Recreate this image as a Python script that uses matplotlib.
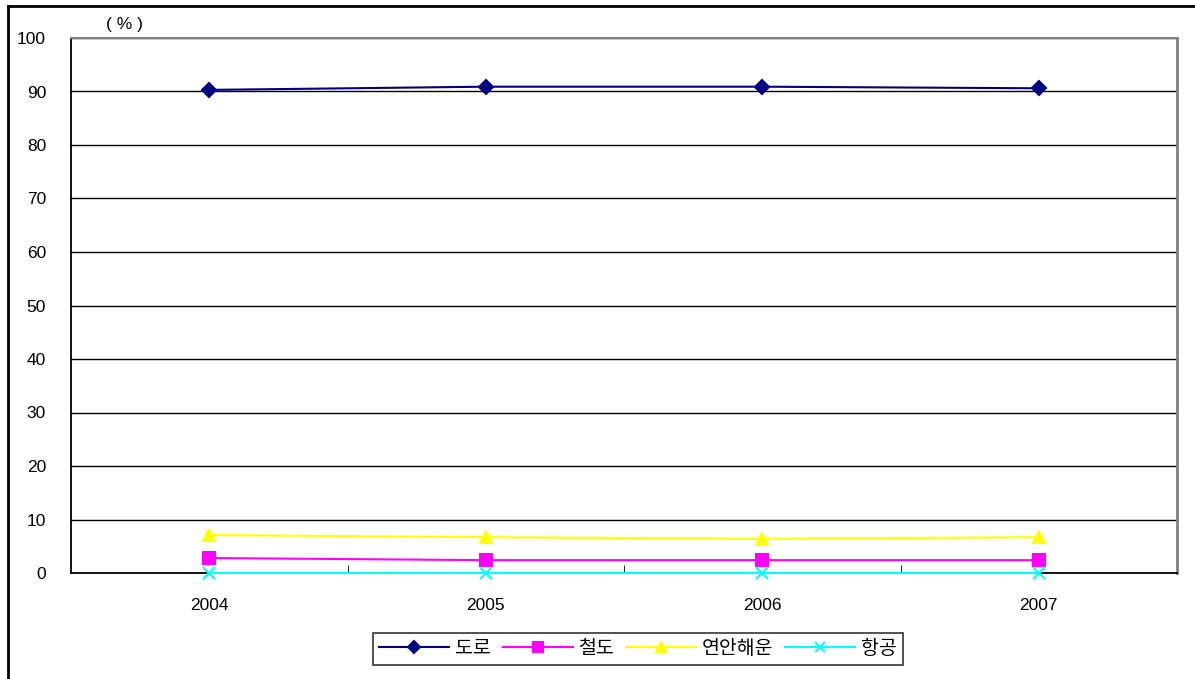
import matplotlib
matplotlib.use("Agg")
import matplotlib.pyplot as plt
from matplotlib.lines import Line2D

plt.rcParams['font.family'] = ['Liberation Sans', 'Noto Sans CJK KR', 'DejaVu Sans']

years = ['2004', '2005', '2006', '2007']
road = [90.3, 90.9, 90.9, 90.6]
rail = [2.8, 2.4, 2.4, 2.4]
coastal = [7.1, 6.7, 6.4, 6.7]
air = [0.02, 0.02, 0.02, 0.02]
series_names = ['도로', '철도', '연안해운', '항공']
y_ticks = [0, 10, 20, 30, 40, 50, 60, 70, 80, 90, 100]

fig = plt.figure(figsize=(11.95, 6.79), dpi=100)
ax = fig.add_axes([71/1195, 1 - 573/679, (1177 - 71)/1195, (573 - 38)/679])

x = list(range(len(years)))
styles = [
    (road, '#000080', 'D', 7, '#000080'),
    (rail, '#FF00FF', 's', 8, '#FF00FF'),
    (coastal, '#FFFF00', '^', 9, '#FFFF00'),
    (air, '#00FFFF', 'x', 8, '#00FFFF'),
]
handles = []
for (vals, col, mk, ms, mc), name in zip(styles, series_names):
    ln, = ax.plot(x, vals, color=col, lw=1.5, marker=mk, markersize=ms,
                  markerfacecolor=mc, markeredgecolor=mc, markeredgewidth=1.5,
                  label=name, clip_on=False, zorder=3)
    handles.append(ln)

ax.set_xlim(-0.5, len(years) - 0.5)
ax.set_ylim(0, 100)
ax.set_yticks(y_ticks)
ax.set_yticklabels([str(v) for v in y_ticks], fontsize=12.5)
ax.yaxis.grid(True, color='black', lw=1)
ax.set_axisbelow(True)
ax.tick_params(axis='y', length=0, pad=18)

# category labels centred, tick marks on category boundaries
ax.set_xticks(x)
ax.set_xticklabels(years, fontsize=12.5)
ax.set_xticks([i + 0.5 for i in range(len(years) - 1)], minor=True)
ax.tick_params(axis='x', which='major', length=0, pad=18)
ax.tick_params(axis='x', which='minor', direction='in', length=6, color='black')

ax.spines['left'].set_color('black')
ax.spines['bottom'].set_color('black')
ax.spines['left'].set_linewidth(1.3)
ax.spines['bottom'].set_linewidth(1.3)
ax.spines['top'].set_color('#808080')
ax.spines['right'].set_color('#808080')
ax.spines['top'].set_linewidth(1.5)
ax.spines['right'].set_linewidth(2)

fig.text(124/1195, 1 - 24/679, '( % )', fontsize=12.5, ha='center', va='center')

leg = fig.legend(handles=handles, labels=series_names, loc='center',
                 bbox_to_anchor=(638/1195, 1 - 649/679), ncol=4, fontsize=14,
                 frameon=True, fancybox=False, edgecolor='black',
                 handlelength=3.6, handletextpad=0.3, columnspacing=0.6,
                 borderpad=0.35, markerscale=0.85)
leg.get_frame().set_linewidth(1.2)

# outer frame (top and left edges)
fig.add_artist(Line2D([8/1195, 1], [1 - 6/679, 1 - 6/679], transform=fig.transFigure,
                      color='black', lw=2))
fig.add_artist(Line2D([8/1195, 8/1195], [0, 1 - 6/679], transform=fig.transFigure,
                      color='black', lw=2))

fig.savefig('out.png', dpi=100, facecolor='white')
